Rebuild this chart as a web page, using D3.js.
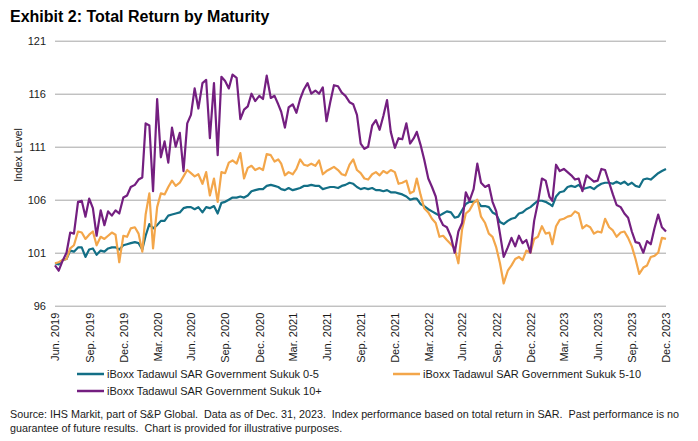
<!DOCTYPE html>
<html>
<head>
<meta charset="utf-8">
<script src="https://cdn.jsdelivr.net/npm/d3@7"></script>
<style>
    body { margin: 0; background: #fff; }
    svg { font-family: "Liberation Sans", Arial, sans-serif; }
</style>
</head>
<body>
<div class="chart"></div>
<script>
// series names + colours (legend order = draw order)
const seriesNames = [
    "iBoxx Tadawul SAR Government Sukuk 0-5",
    "iBoxx Tadawul SAR Government Sukuk 5-10",
    "iBoxx Tadawul SAR Government Sukuk 10+"
];
const seriesColors = ["#136f86", "#f3a64a", "#741f80"];

const yTicks = [96, 101, 106, 111, 116, 121];

const quarterLabels = [
    "Jun. 2019", "Sep. 2019", "Dec. 2019", "Mar. 2020", "Jun. 2020", "Sep. 2020",
    "Dec. 2020", "Mar. 2021", "Jun. 2021", "Sep. 2021", "Dec. 2021", "Mar. 2022",
    "Jun. 2022", "Sep. 2022", "Dec. 2022", "Mar. 2023", "Jun. 2023", "Sep. 2023",
    "Dec. 2023"
];

// index levels: first value 30 Jun 2019, then 10th / 20th / month end, Jul 2019 .. Dec 2023
const sukuk0to5 = [
    100.0,
    99.9, 100.3, 100.4, 101.2, 101.1, 101.5, 101.5, 100.6, 101.3,
    101.4, 100.8, 101.2, 101.1, 101.4, 101.5, 101.5, 101.3, 101.7,
    101.8, 101.9, 102.0, 101.9, 101.3, 102.6, 103.7, 103.3, 103.6,
    104.0, 104.0, 104.5, 104.6, 104.7, 104.8, 105.2, 105.3, 105.3,
    105.1, 105.3, 104.8, 105.3, 105.2, 105.4, 104.7, 105.7, 105.8,
    106.0, 106.2, 106.2, 106.3, 106.2, 106.4, 106.8, 106.9, 107.0,
    107.0, 107.3, 107.4, 107.3, 107.2, 107.0, 106.9, 107.1, 106.9,
    107.0, 107.1, 107.3, 107.3, 107.4, 107.3, 107.3, 107.0, 107.1,
    107.2, 107.2, 107.1, 107.3, 107.4, 107.6, 107.5, 107.2, 107.0,
    107.1, 107.0, 107.1, 106.9, 106.9, 106.8, 106.9, 106.7, 106.7,
    106.6, 106.5, 106.3, 106.0, 106.1, 106.1, 105.6, 105.4, 105.1,
    104.9, 104.7, 104.5, 104.7, 104.9, 104.8, 104.3, 104.4, 105.0,
    105.6, 105.8, 105.8, 105.9, 105.4, 105.4, 105.3, 104.8, 104.6,
    103.9, 103.7, 104.0, 104.2, 104.3, 104.7, 104.8, 105.1, 105.3,
    105.6, 105.9, 105.9, 105.8, 105.6, 105.4, 106.3, 106.7, 106.8,
    107.2, 107.3, 107.2, 107.4, 107.0, 107.1, 107.2, 107.0, 107.3,
    107.5, 107.6, 107.6, 107.5, 107.7, 107.5, 107.7, 107.4, 107.6,
    107.3, 107.2, 107.9, 108.0, 107.9, 108.2, 108.5, 108.7, 108.9
];

const sukuk5to10 = [
    100.0,
    100.1, 100.3, 100.4, 101.4, 101.7, 103.0, 102.9, 102.3, 102.7,
    103.0, 101.7, 102.5, 102.3, 102.6, 102.9, 102.7, 100.1, 102.6,
    102.5, 103.3, 103.4, 102.8, 101.1, 104.6, 106.6, 101.4, 105.3,
    106.6, 106.5, 107.2, 107.8, 107.3, 107.6, 108.2, 108.8, 108.5,
    108.2, 108.4, 107.5, 108.6, 106.4, 108.0, 105.8, 108.6, 108.5,
    109.5, 109.7, 109.4, 110.4, 108.0, 109.0, 109.2, 108.8, 109.0,
    108.8, 110.3, 110.2, 109.6, 109.8, 109.4, 108.3, 108.6, 108.4,
    108.9, 109.8, 109.3, 109.2, 109.4, 109.2, 109.7, 108.4, 108.7,
    108.9, 109.1, 108.8, 108.4, 108.3, 109.3, 109.8, 108.8, 108.5,
    108.0, 107.9, 108.4, 108.6, 108.3, 108.7, 108.5, 108.8, 108.6,
    107.5, 107.6, 107.8, 106.6, 106.8, 108.0, 106.5, 105.2, 104.8,
    104.2, 103.8, 102.5, 102.6, 102.2, 101.8, 101.4, 100.0, 103.2,
    104.7, 105.0, 105.7, 106.0, 104.4, 103.8, 102.8, 102.5, 101.5,
    100.0, 98.1, 99.3, 99.8, 100.4, 100.6, 100.3, 101.2, 101.0,
    102.3, 102.5, 103.5, 102.8, 102.9, 101.8, 103.5, 104.1, 104.2,
    104.4, 104.5, 104.9, 104.7, 103.3, 103.6, 103.4, 102.8, 103.0,
    102.9, 104.2, 103.4, 103.1, 102.5, 102.9, 103.0, 102.4, 101.6,
    100.4, 99.0, 99.6, 99.8, 100.6, 100.7, 101.0, 102.4, 102.3
];

const sukuk10plus = [
    99.8,
    99.3, 100.2, 101.0, 102.9, 102.8, 105.8, 105.9, 104.4, 106.1,
    105.2, 102.6, 105.0, 103.6, 104.9, 104.5, 105.0, 104.7, 106.2,
    106.4, 107.2, 107.4, 107.9, 108.1, 113.2, 113.0, 106.8, 115.5,
    110.0, 111.5, 109.5, 112.8, 111.0, 112.3, 108.7, 113.2, 114.0,
    116.5, 114.6, 117.0, 117.3, 111.8, 117.0, 110.2, 117.6, 117.2,
    116.5, 117.8, 117.5, 113.6, 114.5, 114.8, 116.0, 115.3, 115.8,
    115.5, 117.7, 115.6, 115.8, 115.0, 114.3, 112.8, 114.7, 115.0,
    114.2, 115.5, 116.4, 117.0, 116.0, 116.3, 116.0, 116.6, 113.4,
    115.2, 116.8, 116.7, 116.1, 115.8, 115.2, 115.0, 114.0, 111.3,
    110.8, 111.0, 113.0, 113.5, 112.6, 113.9, 115.4, 112.4, 110.9,
    111.8, 111.7, 113.2, 111.3, 111.8, 112.4, 111.2, 109.8, 108.0,
    107.2, 106.3, 104.3, 103.6, 103.4, 102.5, 101.0, 103.0, 103.8,
    106.7, 105.9, 107.0, 109.4, 107.6, 107.2, 107.4, 105.8, 104.9,
    102.8, 100.6, 101.5, 102.4, 101.6, 102.6, 101.9, 102.2, 101.0,
    104.0, 105.7, 108.0, 107.8, 106.3, 105.9, 109.3, 108.7, 108.9,
    108.6, 108.3, 107.9, 108.0, 106.8, 108.3, 108.0, 107.7, 107.8,
    108.9, 108.8, 107.6, 106.5, 105.5, 105.3, 104.7, 104.3, 103.0,
    102.0, 101.9, 101.0, 102.1, 101.8, 103.3, 104.6, 103.4, 103.0
];

const sourceLines = [
    "Source: IHS Markit, part of S&P Global.  Data as of Dec. 31, 2023.  Index performance based on total return in SAR.  Past performance is no",
    "guarantee of future results.  Chart is provided for illustrative purposes."
];

// dates for the samples
let dates = [new Date(2019, 5, 30)];
for (let k = 0; k < 54; k++) {
    let mo = 6 + k;
    dates.push(new Date(2019, mo, 10), new Date(2019, mo, 20), new Date(2019, mo + 1, 0));
}

let parseQ = d3.timeParse("%b. %Y");
let tickDates = quarterLabels.map(s => {
    let d = parseQ(s);
    return new Date(d.getFullYear(), d.getMonth() + 1, 0);
});

let allSeries = [sukuk0to5, sukuk5to10, sukuk10plus];

let W = 698, H = 441;
let plot = { left: 55, right: 666, top: 40.7, bottom: 305.7 };

let svg = d3.select(".chart").append("svg")
    .attr("width", W)
    .attr("height", H);

svg.append("text")
    .attr("x", 10)
    .attr("y", 22)
    .attr("font-size", 16)
    .attr("font-weight", "bold")
    .attr("fill", "#000")
    .text("Exhibit 2: Total Return by Maturity");

let x = d3.scaleTime().domain([dates[0], dates[dates.length - 1]]).range([plot.left, plot.right]);
let y = d3.scaleLinear().domain([96, 121]).range([plot.bottom, plot.top]);

// y grid + labels
let yAxis = d3.axisLeft(y)
    .tickValues(yTicks)
    .tickSize(-(plot.right - plot.left))
    .tickPadding(9);

let gy = svg.append("g")
    .attr("transform", "translate(" + plot.left + ",0)")
    .call(yAxis);
gy.select(".domain").remove();
gy.selectAll("line").attr("stroke", "#a6a6a6").attr("stroke-width", 1);
gy.selectAll("text")
    .attr("font-size", 11)
    .attr("fill", "#1a1a1a")
    .style("font-family", "'Liberation Sans', Arial, sans-serif");

svg.append("text")
    .attr("transform", "translate(22,155) rotate(-90)")
    .attr("text-anchor", "middle")
    .attr("font-size", 10.5)
    .attr("fill", "#1a1a1a")
    .text("Index Level");

// x axis, rotated labels
let fmt = d3.timeFormat("%b. %Y");
let xAxis = d3.axisBottom(x)
    .tickValues(tickDates)
    .tickSize(0)
    .tickFormat(fmt);

let gx = svg.append("g")
    .attr("transform", "translate(0," + plot.bottom + ")")
    .call(xAxis);
gx.select(".domain").remove();
gx.selectAll("text")
    .attr("transform", "rotate(-90)")
    .attr("x", -7)
    .attr("y", 0)
    .attr("dy", "0.35em")
    .style("text-anchor", "end")
    .attr("font-size", 11)
    .attr("fill", "#1a1a1a")
    .style("font-family", "'Liberation Sans', Arial, sans-serif");

// lines
let line = d3.line()
    .x((d, i) => x(dates[i]))
    .y(d => y(d));

svg.selectAll(".series")
    .data(allSeries)
    .enter().append("path")
    .classed("series", true)
    .attr("d", d => line(d))
    .attr("fill", "none")
    .attr("stroke", (d, i) => seriesColors[i])
    .attr("stroke-width", 2.2)
    .attr("stroke-linejoin", "round");

// legend
let legendPos = [[77, 374], [393, 374], [77, 391]];
let legend = svg.selectAll(".legend")
    .data(seriesNames)
    .enter().append("g")
    .classed("legend", true)
    .attr("transform", (d, i) => "translate(" + legendPos[i][0] + "," + legendPos[i][1] + ")");

legend.append("line")
    .attr("x1", 0).attr("x2", 27)
    .attr("y1", 0).attr("y2", 0)
    .attr("stroke", (d, i) => seriesColors[i])
    .attr("stroke-width", 2.5);

legend.append("text")
    .attr("x", 30)
    .attr("y", 0)
    .attr("dy", "0.35em")
    .attr("font-size", 11)
    .attr("fill", "#1a1a1a")
    .text(d => d);

// source note
svg.selectAll(".source")
    .data(sourceLines)
    .enter().append("text")
    .classed("source", true)
    .attr("x", 10)
    .attr("y", (d, i) => 418 + i * 13.5)
    .attr("font-size", 10.75)
    .attr("fill", "#1a1a1a")
    .style("white-space", "pre")
    .attr("xml:space", "preserve")
    .text(d => d);
</script>
</body>
</html>
